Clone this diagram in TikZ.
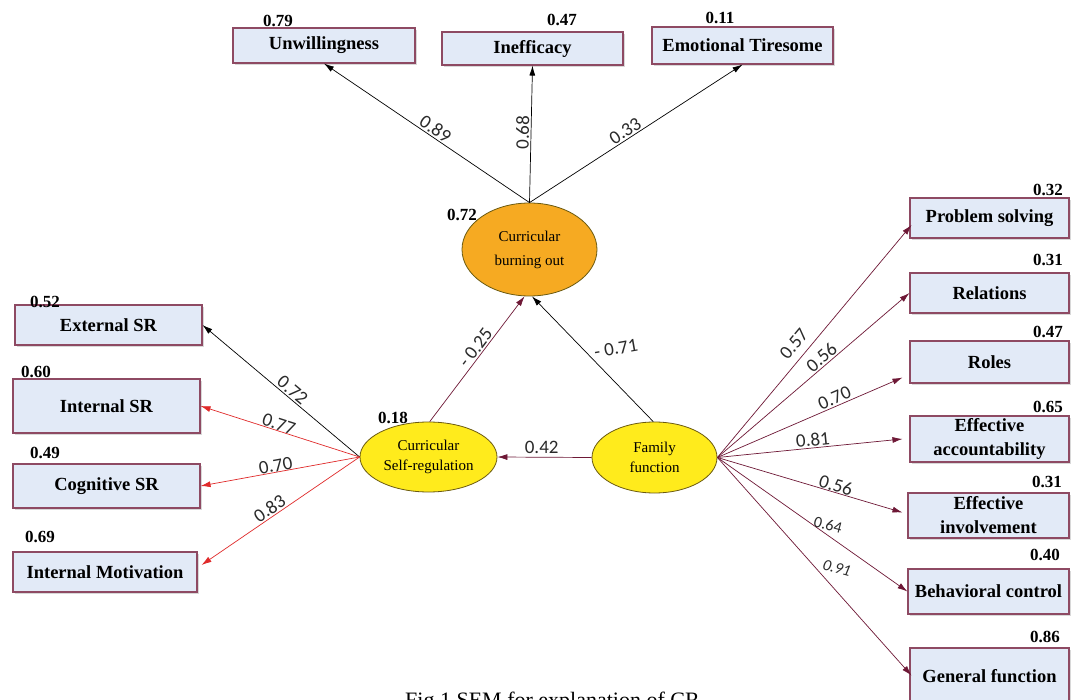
\documentclass[tikz,border=0pt]{standalone}
\usepackage{fontspec}
\setmainfont{Liberation Serif}
\newfontfamily\lblfont{Carlito}
\usetikzlibrary{arrows.meta,shapes.geometric,shadows,calc}
\definecolor{boxfill}{HTML}{E2EAF7}
\definecolor{boxline}{HTML}{8E4A63}
\definecolor{orangefill}{HTML}{F6AA22}
\definecolor{yellowfill}{HTML}{FFEB1C}
\definecolor{redline}{HTML}{E02A2A}
\definecolor{maroonline}{HTML}{6E1836}
\definecolor{ellline}{HTML}{6B5A10}
\definecolor{lbltext}{HTML}{2A2A2A}
\begin{document}
\begin{tikzpicture}[x=1pt,y=-1pt,
  ind/.style={draw=boxline, fill=boxfill, line width=1.1pt, rectangle, inner sep=0pt, align=center,
    font=\fontsize{18.5}{24}\selectfont\bfseries,
    drop shadow={opacity=0.3, shadow xshift=2pt, shadow yshift=-2pt}},
  lat/.style={ellipse, draw=ellline, line width=0.8pt, inner sep=0pt, align=center,
    font=\fontsize{15}{20}\selectfont},
  rsq/.style={font=\fontsize{17}{17}\selectfont\bfseries, inner sep=0pt},
  conn/.style={line width=0.7pt, -{Latex[length=10pt,width=6pt]}},
  lbl/.style={font=\lblfont\fontsize{19}{19}\selectfont, inner sep=1.5pt, text=lbltext},
]
\useasboundingbox (0,0) rectangle (1071,700);
\clip (0,0) rectangle (1071,700);
\fill[white] (0,0) rectangle (1071,700);

% latent variables
\node[lat, fill=orangefill, minimum width=135pt, minimum height=93pt, font=\fontsize{15}{24}\selectfont] (bo) at (529.5,249.5) {Curricular\\burning out};
\node[lat, fill=yellowfill, minimum width=137pt, minimum height=70pt] (sr) at (428.5,457) {Curricular\\Self-regulation};
\node[lat, fill=yellowfill, minimum width=125pt, minimum height=71pt] (ff) at (654.5,457.5) {Family\\function};

% top indicators
\node[ind, minimum width=182pt, minimum height=35pt] (un) at (324,45.5) {Unwillingness};
\node[ind, minimum width=181pt, minimum height=33pt] (ie) at (532.5,48.5) {Inefficacy};
\node[ind, minimum width=181pt, minimum height=37pt] (em) at (742.5,45.5) {Emotional Tiresome};

% left indicators
\node[ind, minimum width=187pt, minimum height=40pt] (es) at (108.5,325) {External SR};
\node[ind, minimum width=187pt, minimum height=54pt] (is) at (106.5,406) {Internal SR};
\node[ind, minimum width=187pt, minimum height=44pt] (cs) at (106.5,486) {Cognitive SR};
\node[ind, minimum width=184pt, minimum height=40pt] (imo) at (105,572) {Internal Motivation};

% right indicators
\node[ind, minimum width=159pt, minimum height=40pt] (ps) at (989.5,218) {Problem solving};
\node[ind, minimum width=159pt, minimum height=40pt] (re) at (989.5,293) {Relations};
\node[ind, minimum width=159pt, minimum height=42pt] (ro) at (989.5,362) {Roles};
\node[ind, minimum width=159pt, minimum height=46pt] (ea) at (989.5,439) {Effective\\accountability};
\node[ind, minimum width=161pt, minimum height=45pt] (ei) at (988.5,515.5) {Effective\\involvement};
\node[ind, minimum width=161pt, minimum height=45pt] (bc) at (988.5,591.5) {Behavioral control};
\node[ind, minimum width=159pt, minimum height=57pt] (gf) at (989.5,676.5) {General function};

% squared multiple correlations
\node[rsq] (r1) at (278,21) {0.79};
\node[rsq] (r2) at (562,20) {0.47};
\node[rsq] (r3) at (720,18) {0.11};
\node[rsq] (r4) at (462,215) {0.72};
\node[rsq] (r5) at (393,418) {0.18};
\node[rsq] (r6) at (45,302) {0.52};
\node[rsq] (r7) at (36,372) {0.60};
\node[rsq] (r8) at (45,453) {0.49};
\node[rsq] (r9) at (40,537) {0.69};
\node[rsq] (r10) at (1048,190) {0.32};
\node[rsq] (r11) at (1048,260) {0.31};
\node[rsq] (r12) at (1048,332) {0.47};
\node[rsq] (r13) at (1048,407) {0.65};
\node[rsq] (r14) at (1047,482) {0.31};
\node[rsq] (r15) at (1045,555) {0.40};
\node[rsq] (r16) at (1045,637) {0.86};

% burning out -> indicators
\draw[conn, black] (bo.north) -- (un.south) node[lbl, sloped, pos=0.48, above] {0.89};
\draw[conn, black] (bo.north) -- (ie.south) node[lbl, sloped, pos=0.51, above] {0.68};
\draw[conn, black] (bo.north) -- (em.south) node[lbl, sloped, pos=0.47, above] {0.33};

% self-regulation -> indicators
\draw[conn, black] (sr.west) -- (es.east) node[lbl, sloped, pos=0.46, above] {0.72};
\draw[conn, redline] (sr.west) -- (is.east) node[lbl, sloped, pos=0.52, above, inner sep=0pt] {0.77};
\draw[conn, redline] (sr.west) -- (cs.east) node[lbl, sloped, pos=0.52, above, inner sep=0pt] {0.70};
\draw[conn, redline] (sr.west) -- ($(imo.east)+(4,-7)$) node[lbl, sloped, pos=0.54, above] {0.83};

% structural paths
\draw[conn, maroonline] (sr.88) -- (bo.264) node[lbl, sloped, pos=0.55, above] {- 0.25};
\draw[conn, black] (ff.92) -- (bo.273) node[lbl, pos=0.55, right=6pt, rotate=10] {- 0.71};
\draw[conn, maroonline] (ff.west) -- (sr.east) node[lbl, pos=0.53, above=2pt] {0.42};

% family function -> indicators
\draw[conn, maroonline] (ff.east) -- ($(ps.west)+(2,7)$) node[lbl, sloped, pos=0.45, above=6pt] {0.57};
\draw[conn, maroonline] (ff.east) -- (re.west) node[lbl, sloped, pos=0.57, above] {0.56};
\draw[conn, maroonline] (ff.east) -- ($(ro.south west)+(-7,-6)$) node[lbl, sloped, pos=0.65, above] {0.70};
\draw[conn, maroonline] (ff.east) -- ($(ea.west)+(-7,0)$) node[lbl, sloped, pos=0.52, above] {0.81};
\draw[conn, maroonline] (ff.east) -- ($(ei.west)+(-5,-3)$) node[lbl, sloped, pos=0.63, above, inner sep=0pt] {0.56};
\draw[conn, maroonline] (ff.east) -- (bc.west) node[lbl, pos=0.57, rotate=-15, yshift=9pt, font=\lblfont\fontsize{16}{16}\selectfont] {0.64};
\draw[conn, maroonline] (ff.east) -- ($(gf.west)+(2,-1)$) node[lbl, pos=0.59, rotate=-15, yshift=19pt, font=\lblfont\itshape\fontsize{16}{16}\selectfont] {0.91};

% caption
\node[anchor=base west, inner sep=0pt, font=\fontsize{22}{22}\selectfont] (cap) at (405,707) {Fig.1 SEM for explanation of CR};
\end{tikzpicture}
\end{document}
